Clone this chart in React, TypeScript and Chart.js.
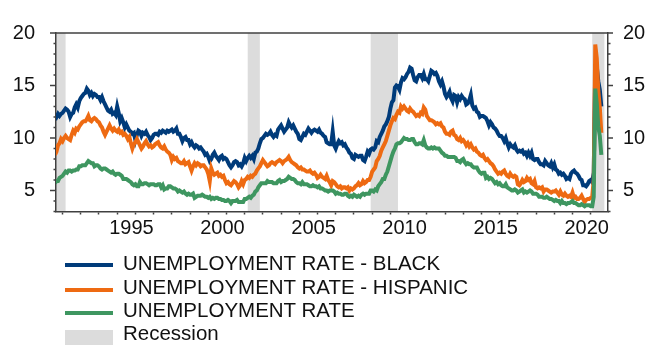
import React, { useEffect, useRef } from "react";
import { Chart, registerables } from "chart.js";

Chart.register(...registerables);

// Monthly data, first point = July 1990
const START_YEAR = 1990;
const START_MONTH = 7;

const black = [
  11.8, 12.2, 12.0, 12.3, 12.1, 12.3,
  12.4, 12.6, 12.8, 12.7, 12.5, 12.0, 12.3, 12.4, 12.9, 13.2, 12.9, 13.5,
  13.8, 14.0, 14.2, 14.3, 14.7, 14.5, 14.1, 14.3, 14.0, 14.2, 14.1, 13.9,
  13.9, 13.6, 13.9, 13.5, 13.2, 12.9, 12.6, 12.5, 12.7, 12.3, 12.4, 12.2,
  13.0, 12.4, 11.6, 11.9, 11.5, 11.0, 11.3, 11.0, 10.7, 10.6, 10.4, 10.5,
  9.8, 10.3, 10.7, 10.6, 10.2, 10.5, 10.4, 10.6, 10.3, 10.1, 9.8, 10.0,
  10.3, 10.4, 10.4, 10.3, 10.6, 10.5, 10.7, 10.6, 10.5, 10.7, 10.6, 10.7,
  10.8, 10.6, 10.7, 10.9, 10.4, 10.4, 10.1, 9.7, 10.0, 10.1, 9.8, 9.8,
  9.4, 9.6, 9.3, 9.1, 9.3, 9.2, 9.0, 9.1, 8.9, 8.7, 8.4, 8.5,
  8.2, 7.8, 8.0, 8.4, 8.6, 8.3, 8.1, 7.9, 8.2, 8.3, 8.0, 8.1,
  8.0, 7.7, 7.4, 7.2, 7.4, 7.7, 7.8, 7.7, 7.4, 7.5, 7.3, 7.6,
  8.1, 7.8, 8.1, 8.3, 8.1, 8.3, 8.0, 8.6, 8.7, 9.0, 9.5, 9.9,
  10.0, 10.2, 10.4, 10.3, 10.4, 10.6, 10.3, 10.1, 10.3, 10.2, 10.8, 11.0,
  11.2, 10.9, 10.6, 10.8, 11.0, 11.5, 11.2, 11.0, 11.2, 10.9, 10.6, 10.4,
  9.9, 9.8, 10.1, 10.4, 10.3, 10.6, 10.9, 10.7, 10.5, 10.7, 10.8, 10.7,
  10.6, 10.8, 10.5, 10.4, 10.2, 10.1, 9.6, 9.5, 9.4, 9.4, 10.6, 9.3,
  9.0, 9.4, 9.7, 9.5, 9.6, 9.3, 9.4, 9.1, 8.9, 8.6, 8.5, 8.1,
  8.0, 8.4, 8.3, 8.2, 8.3, 8.3, 7.9, 7.8, 8.2, 8.7, 8.5, 8.9,
  9.0, 8.9, 9.1, 9.7, 9.6, 10.1, 10.4, 10.7, 11.1, 11.3, 11.6, 12.0,
  12.8, 13.4, 13.6, 14.8, 15.0, 14.9, 14.6, 15.3, 15.7, 15.6, 15.8, 16.1,
  16.3, 16.7, 16.6, 16.0, 15.5, 15.4, 15.8, 16.0, 16.0, 15.7, 16.1, 15.6,
  15.6, 15.4, 15.9, 16.4, 16.3, 16.1, 16.2, 15.9, 15.4, 15.1, 15.4, 14.9,
  14.2, 13.9, 14.1, 14.4, 13.8, 13.5, 14.1, 14.0, 13.4, 13.9, 13.7, 14.0,
  13.8, 13.7, 13.2, 13.3, 13.6, 14.1, 13.1, 12.8, 12.9, 12.5, 12.4, 12.0,
  12.1, 12.1, 12.0, 11.9, 11.6, 11.2, 11.5, 11.3, 11.0, 10.9, 10.7, 10.4,
  10.2, 10.2, 10.0, 9.7, 10.0, 9.5, 9.1, 9.4, 9.2, 9.1, 9.3, 8.9,
  8.7, 8.8, 8.7, 8.8, 8.5, 8.6, 8.3, 8.6, 8.3, 8.6, 8.0, 7.9,
  8.0, 8.0, 7.7, 7.5, 7.5, 7.4, 7.8, 7.6, 7.4, 7.3, 7.6, 7.2,
  7.5, 7.0, 6.9, 6.6, 6.7, 6.5, 6.6, 6.4, 6.1, 6.2, 6.1, 6.6,
  6.8, 6.9, 6.7, 6.6, 6.4, 6.1, 6.0, 5.5, 5.5, 5.4, 5.6, 5.9,
  6.0, 5.8, 6.7, 16.7, 16.8, 15.4, 14.6, 13.0,
];

const hispanic = [
  8.2, 8.4, 8.7, 9.3, 9.5, 9.9,
  9.7, 10.0, 10.2, 10.0, 9.9, 9.8, 10.3, 10.7, 10.5, 10.9, 10.8, 11.1,
  11.3, 11.5, 11.6, 11.6, 11.8, 12.1, 11.7, 11.6, 11.8, 11.9, 11.8, 11.6,
  11.5, 11.2, 11.0, 10.6, 10.3, 10.6, 10.9, 11.2, 10.9, 10.7, 10.9, 10.7,
  10.6, 10.8, 10.5, 10.6, 10.3, 10.4, 10.2, 9.9, 10.1, 9.5, 9.0, 9.4,
  9.6, 9.9, 9.6, 9.3, 9.0, 9.2, 9.5, 9.7, 9.4, 9.2, 9.3, 9.1,
  9.2, 9.4, 9.5, 9.6, 9.3, 9.1, 9.0, 9.2, 8.9, 8.7, 8.6, 8.4,
  7.9, 8.2, 8.0, 8.1, 7.8, 7.7, 7.6, 7.6, 7.8, 7.5, 7.6, 7.7,
  7.3, 6.9, 7.3, 7.6, 7.4, 7.6, 7.5, 7.3, 7.4, 7.4, 7.2, 7.0,
  6.6, 5.9, 7.1, 6.7, 6.5, 6.6, 6.7, 6.4, 6.5, 6.3, 6.4, 6.0,
  5.7, 5.8, 5.6, 5.5, 5.7, 5.9, 5.8, 5.6, 5.3, 5.5, 5.9, 5.6,
  6.0, 6.1, 6.3, 6.2, 6.4, 6.3, 6.5, 6.6, 6.9, 7.1, 7.3, 7.6,
  7.9, 7.7, 7.5, 7.3, 7.4, 7.6, 7.7, 7.6, 7.5, 7.7, 7.8, 7.9,
  7.8, 7.6, 7.8, 7.9, 8.0, 8.2, 7.9, 7.7, 7.6, 7.5, 7.4, 7.2,
  7.1, 7.2, 7.0, 7.0, 6.9, 6.8, 6.8, 6.9, 6.7, 6.6, 6.7, 6.5,
  6.2, 6.3, 6.5, 6.3, 6.2, 6.1, 6.4, 6.0, 5.8, 5.5, 5.9, 5.8,
  5.6, 5.4, 5.3, 5.4, 5.2, 5.3, 5.3, 5.2, 5.3, 5.0, 5.2, 5.1,
  5.2, 5.4, 5.5, 5.7, 5.5, 5.6, 5.9, 5.7, 5.8, 6.0, 6.0, 6.3,
  6.8, 7.0, 7.2, 7.8, 8.0, 8.3, 8.8, 9.1, 9.4, 9.7, 10.2, 10.7,
  11.2, 11.6, 11.9, 11.8, 12.2, 12.5, 12.4, 13.0, 12.8, 13.0, 12.8, 12.6,
  12.5, 12.8, 12.6, 12.5, 12.3, 12.1, 12.2, 12.1, 12.4, 12.3, 12.9, 12.7,
  12.1, 11.9, 11.7, 11.7, 11.6, 11.5, 11.3, 11.4, 11.3, 11.4, 11.1, 11.0,
  10.6, 10.4, 10.4, 10.3, 10.6, 10.7, 10.3, 10.2, 9.9, 9.8, 10.0, 9.7,
  9.8, 9.6, 9.3, 9.5, 9.2, 9.4, 9.1, 8.9, 9.0, 8.7, 8.6, 8.4,
  8.3, 8.4, 8.1, 7.9, 8.0, 7.8, 7.6, 7.5, 7.3, 7.0, 6.8, 6.6,
  6.7, 6.6, 6.8, 6.9, 6.6, 6.4, 6.3, 6.6, 6.4, 6.3, 6.4, 6.3,
  5.6, 5.5, 5.7, 6.0, 5.8, 5.9, 6.2, 6.0, 6.1, 5.7, 5.6, 5.9,
  5.3, 5.2, 5.3, 5.2, 5.3, 4.9, 5.1, 5.1, 5.0, 4.9, 4.8, 4.9,
  4.9, 5.0, 4.8, 4.6, 4.9, 4.6, 4.5, 4.7, 4.5, 4.4, 4.5, 4.4,
  4.8, 4.3, 4.4, 4.2, 4.2, 4.3, 4.5, 4.2, 3.9, 4.1, 4.2, 4.2,
  4.3, 4.4, 6.0, 18.9, 17.6, 14.5, 12.9, 10.5,
];

const total = [
  5.5, 5.7, 5.9, 5.9, 6.2, 6.3,
  6.4, 6.6, 6.8, 6.7, 6.9, 6.9, 6.8, 6.9, 6.9, 7.0, 7.0, 7.3,
  7.3, 7.4, 7.4, 7.4, 7.6, 7.8, 7.7, 7.6, 7.6, 7.3, 7.4, 7.4,
  7.3, 7.1, 7.0, 7.1, 7.1, 7.0, 6.9, 6.8, 6.7, 6.8, 6.6, 6.5,
  6.6, 6.6, 6.5, 6.4, 6.1, 6.1, 6.1, 6.0, 5.9, 5.8, 5.6, 5.5,
  5.6, 5.4, 5.4, 5.8, 5.6, 5.6, 5.7, 5.7, 5.6, 5.5, 5.6, 5.6,
  5.6, 5.5, 5.5, 5.6, 5.6, 5.3, 5.5, 5.1, 5.2, 5.2, 5.4, 5.4,
  5.3, 5.2, 5.2, 5.1, 4.9, 5.0, 4.9, 4.8, 4.9, 4.7, 4.6, 4.7,
  4.6, 4.6, 4.7, 4.3, 4.4, 4.5, 4.5, 4.5, 4.6, 4.5, 4.4, 4.4,
  4.3, 4.4, 4.2, 4.3, 4.2, 4.3, 4.3, 4.2, 4.2, 4.1, 4.1, 4.0,
  4.0, 4.1, 4.0, 3.8, 4.0, 4.0, 4.0, 4.1, 3.9, 3.9, 3.9, 3.9,
  4.2, 4.2, 4.3, 4.4, 4.3, 4.5, 4.6, 4.9, 5.0, 5.3, 5.5, 5.7,
  5.7, 5.7, 5.7, 5.9, 5.8, 5.8, 5.8, 5.7, 5.7, 5.7, 5.9, 6.0,
  5.8, 5.9, 5.9, 6.0, 6.1, 6.3, 6.2, 6.1, 6.1, 6.0, 5.8, 5.7,
  5.7, 5.6, 5.8, 5.6, 5.6, 5.6, 5.5, 5.4, 5.4, 5.5, 5.4, 5.4,
  5.3, 5.4, 5.2, 5.2, 5.1, 5.0, 5.0, 4.9, 5.0, 5.0, 5.0, 4.9,
  4.7, 4.8, 4.7, 4.7, 4.6, 4.6, 4.7, 4.7, 4.5, 4.4, 4.5, 4.4,
  4.6, 4.5, 4.4, 4.5, 4.4, 4.6, 4.7, 4.6, 4.7, 4.7, 4.7, 5.0,
  5.0, 4.9, 5.1, 5.0, 5.4, 5.6, 5.8, 6.1, 6.1, 6.5, 6.8, 7.3,
  7.8, 8.3, 8.7, 9.0, 9.4, 9.5, 9.5, 9.6, 9.8, 10.0, 9.9, 9.9,
  9.8, 9.8, 9.9, 9.9, 9.6, 9.4, 9.4, 9.5, 9.5, 9.4, 9.8, 9.3,
  9.1, 9.0, 9.0, 9.1, 9.0, 9.1, 9.0, 9.0, 9.0, 8.8, 8.6, 8.5,
  8.3, 8.3, 8.2, 8.2, 8.2, 8.2, 8.2, 8.1, 7.8, 7.8, 7.7, 7.9,
  8.0, 7.7, 7.5, 7.6, 7.5, 7.5, 7.3, 7.2, 7.2, 7.2, 6.9, 6.7,
  6.6, 6.7, 6.7, 6.2, 6.3, 6.1, 6.2, 6.1, 5.9, 5.7, 5.8, 5.6,
  5.7, 5.5, 5.4, 5.4, 5.6, 5.3, 5.2, 5.1, 5.0, 5.0, 5.1, 5.0,
  4.8, 4.9, 5.0, 5.1, 4.8, 4.9, 4.8, 4.9, 5.0, 4.9, 4.7, 4.7,
  4.7, 4.6, 4.4, 4.4, 4.4, 4.3, 4.3, 4.4, 4.3, 4.2, 4.2, 4.1,
  4.0, 4.1, 4.0, 4.0, 3.8, 4.0, 3.8, 3.8, 3.7, 3.8, 3.8, 3.9,
  4.0, 3.8, 3.8, 3.7, 3.6, 3.6, 3.7, 3.6, 3.5, 3.6, 3.6, 3.6,
  3.5, 3.5, 4.4, 14.7, 13.3, 11.1, 10.2, 8.4,
];

// Recession periods (NBER), as decimal years
const recessionStart = [1990.5, 2001.167, 2007.917, 2020.083];
const recessionEnd = [1991.167, 2001.833, 2009.417, 2020.75];

const xTickYears = [
  1991, 1992, 1993, 1994, 1995, 1996, 1997, 1998, 1999, 2000, 2001, 2002, 2003,
  2004, 2005, 2006, 2007, 2008, 2009, 2010, 2011, 2012, 2013, 2014, 2015, 2016,
  2017, 2018, 2019, 2020,
];
const yTickValues = [3, 4, 5, 6, 7, 8, 9, 10, 11, 12, 13, 14, 15, 16, 17, 18, 19, 20];

const LABELS = [
  "UNEMPLOYMENT RATE - BLACK",
  "UNEMPLOYMENT RATE - HISPANIC",
  "UNEMPLOYMENT RATE",
];
const RECESSION_LABEL = "Recession";

const BLUE = "#003B7A";
const ORANGE = "#EE6A12";
const GREEN = "#3E9660";
const GREY = "#DCDCDC";
const AXIS = "#404040";
const TEXT = "#111111";
const FONT_FAMILY = "'Liberation Sans', Arial, Helvetica, sans-serif";

const dateOf = (i: number) => START_YEAR + (START_MONTH - 1 + i) / 12;
const toPoints = (arr: number[]) => arr.map((v, i) => ({ x: dateOf(i), y: v }));

const framePlugin = {
  id: "frame",
  beforeDraw(chart: any) {
    const { ctx, chartArea, scales } = chart;
    const xs = scales.x;
    ctx.save();
    ctx.fillStyle = GREY;
    for (let i = 0; i < recessionStart.length; i++) {
      const a = Math.max(xs.getPixelForValue(recessionStart[i]), chartArea.left);
      const b = Math.min(xs.getPixelForValue(recessionEnd[i]), chartArea.right);
      if (b > a) ctx.fillRect(a, chartArea.top, b - a, chartArea.bottom - chartArea.top);
    }
    ctx.restore();
  },
  afterDraw(chart: any) {
    const { ctx, chartArea, scales } = chart;
    ctx.save();
    ctx.strokeStyle = AXIS;
    ctx.lineWidth = 1.5;
    ctx.beginPath();
    ctx.moveTo(chartArea.left, chartArea.top);
    ctx.lineTo(chartArea.right, chartArea.top);
    ctx.stroke();
    const ys = scales.y;
    ctx.beginPath();
    for (const v of yTickValues) {
      const py = ys.getPixelForValue(v);
      const major = v % 5 === 0;
      ctx.moveTo(chartArea.left - (major ? 6 : 2.5), py);
      ctx.lineTo(chartArea.left, py);
      ctx.moveTo(chartArea.right, py);
      ctx.lineTo(chartArea.right + (major ? 5 : 2.5), py);
    }
    ctx.stroke();
    ctx.restore();
  },
};

function yAxis(position: "left" | "right", width: number, padding: number) {
  return {
    type: "linear" as const,
    position,
    min: 3,
    max: 20,
    afterBuildTicks: (s: any) => {
      s.ticks = yTickValues.map((v) => ({ value: v }));
    },
    afterFit: (s: any) => {
      s.width = width;
    },
    ticks: {
      autoSkip: false,
      padding,
      color: TEXT,
      font: { family: FONT_FAMILY, size: 20 },
      callback: (v: any) => (Number(v) % 5 === 0 ? String(v) : ""),
    },
    grid: { display: false, drawTicks: false },
    border: { display: true, color: AXIS, width: 1.5 },
  };
}

export default function App() {
  const ref = useRef<HTMLCanvasElement | null>(null);

  useEffect(() => {
    if (!ref.current) return;
    const lineDs = (label: string, arr: number[], color: string, order: number) => ({
      label,
      data: toPoints(arr),
      borderColor: color,
      backgroundColor: color,
      borderWidth: 4,
      pointRadius: 0,
      tension: 0,
      order,
      yAxisID: "y",
    });
    const chart = new Chart(ref.current, {
      type: "line",
      data: {
        datasets: [
          lineDs(LABELS[0], black, BLUE, 2),
          lineDs(LABELS[1], hispanic, ORANGE, 1),
          lineDs(LABELS[2], total, GREEN, 0),
        ],
      },
      options: {
        animation: false,
        responsive: false,
        maintainAspectRatio: false,
        layout: { padding: { top: 25, left: 0, right: 0, bottom: 0 } },
        plugins: {
          legend: { display: false },
          tooltip: { enabled: false },
        },
        scales: {
          x: {
            type: "linear",
            min: 1990.64,
            max: 2020.95,
            afterBuildTicks: (s: any) => {
              s.ticks = xTickYears.map((v) => ({ value: v }));
            },
            afterFit: (s: any) => {
              s.height = 133.5;
            },
            ticks: {
              autoSkip: false,
              maxRotation: 0,
              minRotation: 0,
              padding: 2,
              labelOffset: -4,
              color: TEXT,
              font: { family: FONT_FAMILY, size: 20 },
              callback: (v: any) => (Number(v) % 5 === 0 ? String(v) : ""),
            },
            grid: {
              display: true,
              drawOnChartArea: false,
              drawTicks: true,
              tickLength: 3,
              tickColor: AXIS,
              tickWidth: 1.5,
            },
            border: { display: true, color: AXIS, width: 1.5 },
          },
          y: yAxis("left", 56, 21),
          y2: yAxis("right", 40, 15),
        },
      } as any,
      plugins: [framePlugin],
    });
    return () => chart.destroy();
  }, []);

  const rowCaps = [262.5, 286, 309.5, 332.5];
  const lineCenters = [265, 289.5, 313];
  const colors = [BLUE, ORANGE, GREEN];
  const textStyle: React.CSSProperties = {
    position: "absolute",
    left: 123,
    fontFamily: FONT_FAMILY,
    fontSize: 20.5,
    lineHeight: "24px",
    height: 24,
    color: TEXT,
    whiteSpace: "nowrap",
  };

  return (
    <div style={{ position: "fixed", left: 0, top: 0, width: 648, height: 345, background: "#fff", overflow: "hidden" }}>
      <canvas ref={ref} width={648} height={345} style={{ position: "absolute", left: 0, top: 0, display: "block" }} />
      {LABELS.map((label, i) => (
        <React.Fragment key={label}>
          <div
            style={{
              position: "absolute",
              left: 65,
              width: 48,
              top: lineCenters[i] - 2,
              height: 4,
              background: colors[i],
            }}
          />
          <div style={{ ...textStyle, top: rowCaps[i] - 11.5 }}>{label}</div>
        </React.Fragment>
      ))}
      <div style={{ position: "absolute", left: 65, width: 48, top: 330, height: 15, background: GREY }} />
      <div style={{ ...textStyle, top: rowCaps[3] - 11.5 }}>{RECESSION_LABEL}</div>
    </div>
  );
}
